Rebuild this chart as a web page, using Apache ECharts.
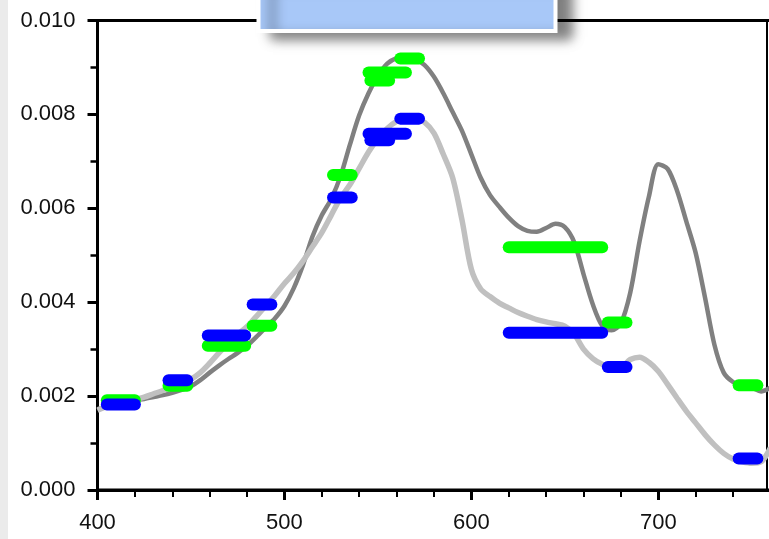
<!DOCTYPE html>
<html>
<head>
<meta charset="utf-8">
<title>Reflectance spectra with band averages</title>
<script src="https://cdn.jsdelivr.net/npm/echarts@6/dist/echarts.min.js"></script>
<style>
  html, body { margin: 0; padding: 0; background: #fff; }
  #chart { width: 769px; height: 539px; }
</style>
</head>
<body>
<div id="chart"></div>
<script>
// Wavelength samples (nm) shared by both spectra
const wavelengths = [
  400, 405, 410, 415, 420, 425, 430, 435, 440, 445, 450, 455, 460, 465, 470, 475, 480, 485, 490, 495,
  500, 505, 510, 515, 520, 525, 530, 535, 540, 545, 550, 555, 560, 565, 570, 575, 580, 585, 590, 595,
  600, 605, 610, 615, 620, 625, 630, 635, 640, 645, 650, 655, 660, 665, 670, 675, 680, 685, 690, 695,
  700, 705, 710, 715, 720, 725, 730, 735, 740, 745, 750, 755, 760
];

// Dark spectrum
const darkSpectrum = [
  0.00172, 0.00178, 0.00183, 0.00187, 0.00191, 0.00194, 0.00198, 0.00202, 0.00207, 0.00213,
  0.00221, 0.00234, 0.00250, 0.00265, 0.00279, 0.00292, 0.00307, 0.00326, 0.00346, 0.00366,
  0.00392, 0.00430, 0.00480, 0.00540, 0.00585, 0.00620, 0.00668, 0.00735, 0.00798, 0.00845,
  0.00882, 0.00908, 0.00920, 0.00922, 0.00918, 0.00905, 0.00880, 0.00845, 0.00805, 0.00765,
  0.00715, 0.00665, 0.00628, 0.00603, 0.00580, 0.00562, 0.00552, 0.00550, 0.00558, 0.00567,
  0.00560, 0.00528, 0.00460, 0.00395, 0.00350, 0.00340, 0.00355, 0.00420, 0.00530, 0.00625,
  0.00694, 0.00684, 0.00638, 0.00572, 0.00505, 0.00410, 0.00310, 0.00250, 0.00230, 0.00222,
  0.00218, 0.00210, 0.00218
];

// Light spectrum
const lightSpectrum = [
  0.00170, 0.00178, 0.00184, 0.00188, 0.00193, 0.00198, 0.00205, 0.00212, 0.00220, 0.00228,
  0.00236, 0.00250, 0.00270, 0.00292, 0.00313, 0.00332, 0.00348, 0.00370, 0.00392, 0.00415,
  0.00440, 0.00462, 0.00488, 0.00518, 0.00548, 0.00585, 0.00622, 0.00650, 0.00685, 0.00720,
  0.00748, 0.00770, 0.00785, 0.00792, 0.00790, 0.00783, 0.00760, 0.00715, 0.00665, 0.00575,
  0.00470, 0.00428, 0.00412, 0.00398, 0.00388, 0.00378, 0.00370, 0.00363, 0.00358, 0.00354,
  0.00349, 0.00332, 0.00300, 0.00280, 0.00268, 0.00263, 0.00262, 0.00278, 0.00283, 0.00272,
  0.00253, 0.00225, 0.00196, 0.00168, 0.00143, 0.00118, 0.00096, 0.00078, 0.00066, 0.00060,
  0.00057, 0.00060, 0.00090
];

// Sensor bands (nm) and the band-averaged values of each spectrum
const bandStart = [405, 438, 459, 483, 526, 545, 546, 562, 620, 673, 743];
const bandEnd   = [420, 448, 479, 493, 536, 565, 556, 572, 670, 683, 753];
const darkBandValues  = [0.00191, 0.00222, 0.00307, 0.00350, 0.00671, 0.00889, 0.00872, 0.00919, 0.00517, 0.00357, 0.00223];
const lightBandValues = [0.00182, 0.00234, 0.00329, 0.00395, 0.00623, 0.00759, 0.00745, 0.00791, 0.00335, 0.00262, 0.00067];

// Axis ticks
const xTicks = { min: 400, max: 800, interval: 100 };
const yTicks = { min: 0, max: 0.010, interval: 0.002 };

const FONT = '"Liberation Sans", Arial, Helvetica, sans-serif';

function pairs(xs, ys) {
  return xs.map((x, i) => [x, ys[i]]);
}

function bandItems(values) {
  return bandStart.map((s, i) => [s, bandEnd[i], values[i]]);
}

function bandRenderer(color) {
  return function (params, api) {
    const a = api.coord([api.value(0), api.value(2)]);
    const b = api.coord([api.value(1), api.value(2)]);
    return {
      type: 'line',
      shape: { x1: a[0], y1: a[1], x2: b[0], y2: b[1] },
      style: { stroke: color, lineWidth: 12, lineCap: 'round' }
    };
  };
}

const chart = echarts.init(document.getElementById('chart'), null, { renderer: 'canvas' });

chart.setOption({
  animation: false,
  backgroundColor: '#fff',
  grid: {
    left: 97.5, top: 20.5, width: 747.7, height: 469.5,
    show: true, borderColor: '#000', borderWidth: 3,
    containLabel: false, outerBoundsMode: 'none'
  },
  xAxis: [{
    type: 'value',
    min: xTicks.min, max: xTicks.max, interval: xTicks.interval,
    position: 'bottom',
    axisLine: { show: true, lineStyle: { color: '#000', width: 3 } },
    axisTick: { show: true, length: 10, lineStyle: { color: '#000', width: 3 } },
    minorTick: { show: true, splitNumber: 5, length: 7, lineStyle: { color: '#000', width: 2 } },
    axisLabel: { margin: 22, fontSize: 22, color: '#111', fontFamily: FONT },
    splitLine: { show: false }
  }],
  yAxis: [{
    type: 'value',
    min: yTicks.min, max: yTicks.max, interval: yTicks.interval,
    position: 'left',
    axisLine: { show: true, lineStyle: { color: '#000', width: 3 } },
    axisTick: { show: true, length: 10, lineStyle: { color: '#000', width: 3 } },
    minorTick: { show: true, splitNumber: 2, length: 7, lineStyle: { color: '#000', width: 2.5 } },
    axisLabel: { margin: 22, fontSize: 22, color: '#111', fontFamily: FONT,
      formatter: v => v.toFixed(3) },
    splitLine: { show: false }
  }, {
    type: 'value',
    min: yTicks.min, max: yTicks.max,
    position: 'right', offset: -78.2,
    axisLine: { show: true, lineStyle: { color: '#000', width: 2 } },
    axisTick: { show: false },
    axisLabel: { show: false },
    splitLine: { show: false }
  }],
  series: [{
    name: 'dark spectrum',
    type: 'line',
    data: pairs(wavelengths, darkSpectrum),
    showSymbol: false, symbol: 'none', smooth: 0.3,
    lineStyle: { color: '#808080', width: 4.5 },
    z: 2
  }, {
    name: 'light spectrum',
    type: 'line',
    data: pairs(wavelengths, lightSpectrum),
    showSymbol: false, symbol: 'none', smooth: 0.3,
    lineStyle: { color: '#c0c0c0', width: 5.5 },
    z: 2
  }, {
    name: 'dark bands',
    type: 'custom',
    data: bandItems(darkBandValues),
    encode: { x: [0, 1], y: 2 },
    renderItem: bandRenderer('#00ff00'),
    z: 3
  }, {
    name: 'light bands',
    type: 'custom',
    data: bandItems(lightBandValues),
    encode: { x: [0, 1], y: 2 },
    renderItem: bandRenderer('#0000ff'),
    z: 4
  }],
  graphic: [{
    type: 'rect',
    left: 0, top: 0, z: -10,
    shape: { x: 0, y: 0, width: 8, height: 539 },
    style: { fill: '#ebebeb' }
  }, {
    type: 'rect',
    z: 100,
    shape: { x: 258.5, y: -20, width: 297, height: 51 },
    style: {
      fill: '#a8c8f8', stroke: '#ffffff', lineWidth: 4,
      shadowBlur: 12, shadowOffsetX: 14, shadowOffsetY: 6,
      shadowColor: 'rgba(0,0,0,0.5)'
    }
  }]
});
</script>
</body>
</html>
